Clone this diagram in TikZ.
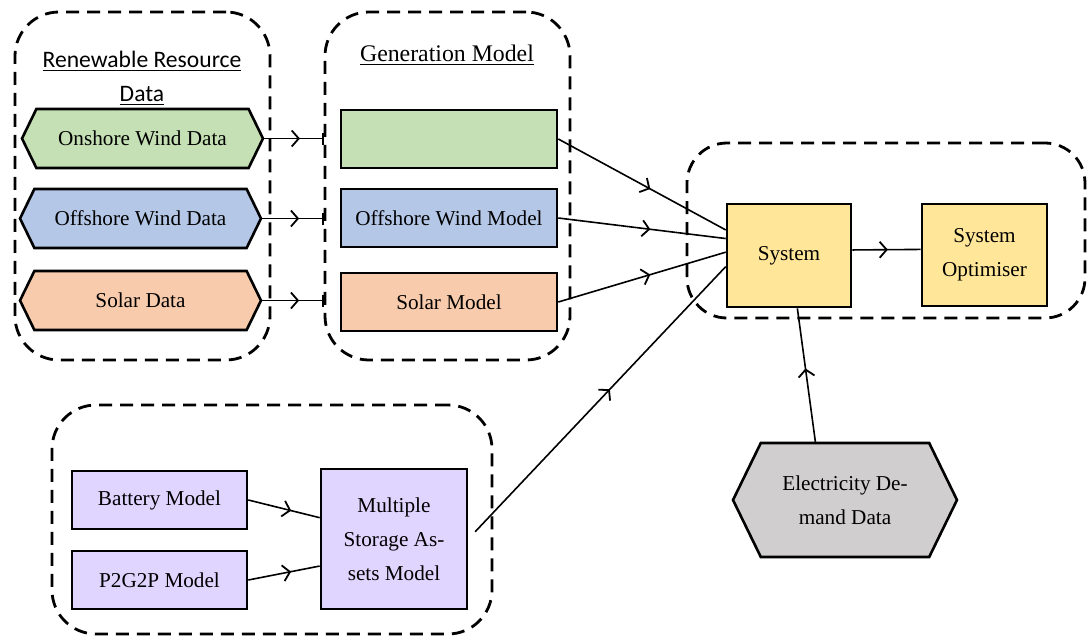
\documentclass[tikz,border=0pt]{standalone}
\usepackage{fontspec}
\setmainfont{Liberation Serif}
\newfontfamily\calibri{Carlito}
\usetikzlibrary{shapes.symbols,arrows.meta,decorations.markings}

\definecolor{ongreen}{HTML}{C5E0B4}
\definecolor{offblue}{HTML}{B4C7E7}
\definecolor{solorange}{HTML}{F8CBAD}
\definecolor{sysyellow}{HTML}{FFE699}
\definecolor{storpurple}{HTML}{E0D5FF}
\definecolor{demgrey}{HTML}{D0CECE}

\tikzset{
  group/.style={draw, line width=1.4pt, dash pattern=on 6.5pt off 4pt, rounded corners=22pt, inner sep=0pt},
  box/.style={draw, line width=1.3pt, inner sep=0pt, align=center, font=\fontsize{10.6}{17}\selectfont},
  hexa/.style={box, shape=signal, signal to=east and west, signal pointer angle=128},
  link/.style={line width=0.8pt, postaction={decorate},
    decoration={markings, mark=at position #1 with {\arrow{Straight Barb[length=3.5pt,width=8pt,line width=0.9pt]}}}},
  link/.default=0.55
}

\begin{document}
\begin{tikzpicture}[x=0.5pt,y=-0.5pt]
\useasboundingbox (0,0) rectangle (1088,637);

% dashed groups
\node[group, minimum width=127.5pt, minimum height=174pt] (resgroup) at (142.5,186) {};
\node[group, minimum width=122.5pt, minimum height=174pt] (gengroup) at (447.5,186) {};
\node[group, minimum width=199pt, minimum height=87.5pt, rounded corners=20pt] (sysgroup) at (886,230.5) {};
\node[group, minimum width=220pt, minimum height=114.5pt] (storgroup) at (272,519.5) {};

% titles
\node[align=center, font=\calibri\fontsize{11.8}{17}\selectfont] (restitle) at (142,78) {\underline{Renewable Resource}\\\underline{Data}};
\node[font=\fontsize{11.9}{14}\selectfont] (gentitle) at (447,55) {\underline{Generation Model}};

% resource data
\node[hexa, fill=ongreen, minimum width=120.5pt, minimum height=29.5pt] (ondata) at (142.5,138.5) {Onshore Wind Data};
\node[hexa, fill=offblue, minimum width=120.5pt, minimum height=29.5pt] (offdata) at (140.5,218.5) {Offshore Wind Data};
\node[hexa, fill=solorange, minimum width=120.5pt, minimum height=29.5pt] (soldata) at (140.5,300.5) {Solar Data};

% generation models
\node[box, fill=ongreen, minimum width=108pt, minimum height=29pt] (onmodel) at (449,139) {};
\node[box, fill=offblue, minimum width=108pt, minimum height=29pt] (offmodel) at (449,218) {Offshore Wind Model};
\node[box, fill=solorange, minimum width=108pt, minimum height=29pt] (solmodel) at (449,302) {Solar Model};

% system
\node[box, fill=sysyellow, minimum width=62pt, minimum height=51.5pt] (system) at (789,255.5) {System};
\node[box, fill=sysyellow, minimum width=62.5pt, minimum height=51pt] (optimiser) at (984.5,255) {System\\Optimiser};

% storage
\node[box, fill=storpurple, minimum width=87.5pt, minimum height=29pt] (battery) at (159.5,500) {Battery Model};
\node[box, fill=storpurple, minimum width=87.5pt, minimum height=29pt] (p2g2p) at (159.5,580) {P2G2P Model};
\node[box, fill=storpurple, minimum width=73pt, minimum height=70pt] (storage) at (394,539) {Multiple\\Storage As-\\sets Model};

% demand
\node[hexa, fill=demgrey, minimum width=112pt, minimum height=57pt] (demand) at (845,500) {Electricity De-\\mand Data};

% connectors
\draw[link=0.6, -{Bar[width=6pt,line width=0.8pt]}] (ondata.east) -- (ondata.east -| gengroup.west);
\draw[link=0.6, -{Bar[width=6pt,line width=0.8pt]}] (offdata.east) -- (offdata.east -| gengroup.west);
\draw[link=0.6, -{Bar[width=6pt,line width=0.8pt]}] (soldata.east) -- (soldata.east -| gengroup.west);
\draw[link] (onmodel.east) -- (system.158);
\draw[link] (offmodel.east) -- (system.165);
\draw[link] (solmodel.east) -- (system.177);
\draw[link, shorten <=5pt] (storage.east) -- (system.190);
\draw[link] (demand.117) -- (system.279);
\draw[link=0.6] (battery.east) -- (storage.164);
\draw[link=0.6] (p2g2p.east) -- (storage.200);
\draw[link=0.52] (system.5) -- (optimiser.175);
\end{tikzpicture}
\end{document}
